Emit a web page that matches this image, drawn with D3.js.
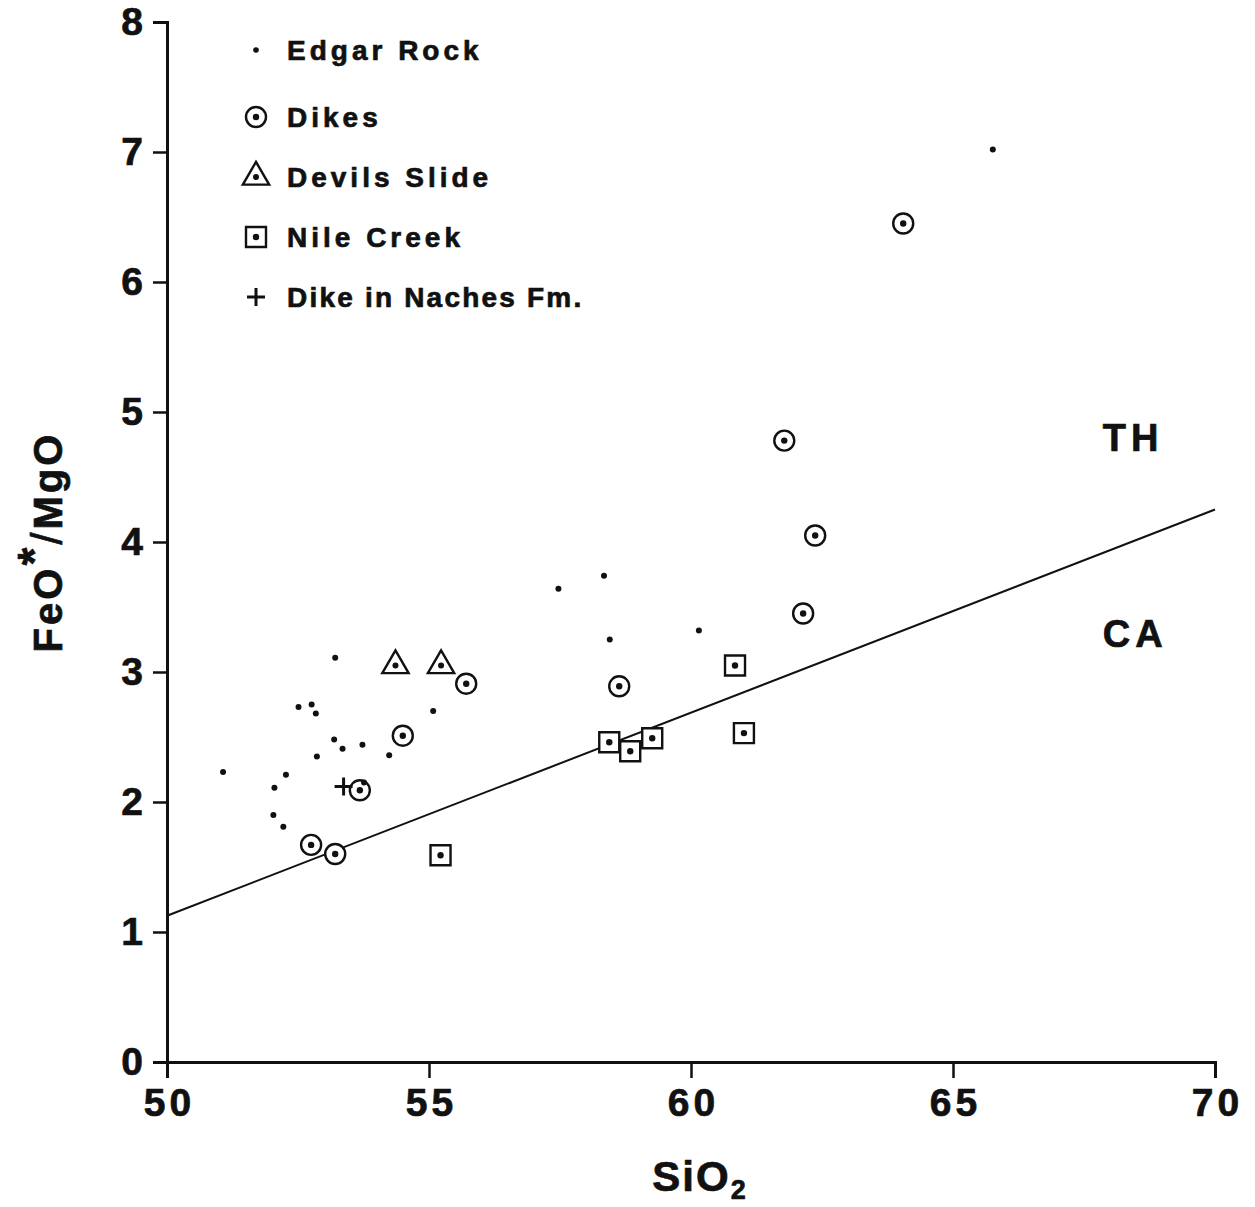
<!DOCTYPE html>
<html>
<head>
<meta charset="utf-8">
<script src="https://cdn.jsdelivr.net/npm/d3@7"></script>
<style>
  body { margin: 0; background: #fff; }
  text { font-family: "Liberation Sans", Arial, sans-serif; font-weight: bold; fill: #111; stroke: #111; stroke-width: 0.7px; }
</style>
</head>
<body>
<div id="chart"></div>
<script>
// data: [SiO2, FeO*/MgO]
var edgarRock = [
  [53.21, 3.11], [52.51, 2.73], [52.76, 2.75], [52.84, 2.68], [55.08, 2.70],
  [53.19, 2.48], [53.35, 2.41], [53.73, 2.44], [52.86, 2.35], [54.24, 2.36],
  [51.07, 2.23], [52.27, 2.21], [52.05, 2.11], [52.03, 1.90], [52.22, 1.81],
  [53.76, 2.15], [57.47, 3.64], [58.34, 3.74], [58.45, 3.25], [60.15, 3.32],
  [65.76, 7.02]
];
var dikes = [
  [55.71, 2.91], [54.50, 2.51], [53.68, 2.09], [52.75, 1.67], [53.21, 1.60],
  [58.63, 2.89], [64.05, 6.45], [61.78, 4.78], [62.37, 4.05], [62.14, 3.45]
];
var devilsSlide = [[54.36, 3.05], [55.23, 3.05]];
var nileCreek = [
  [55.22, 1.59], [58.44, 2.46], [58.84, 2.39], [59.26, 2.49], [60.84, 3.05], [61.01, 2.53]
];
var nachesDike = [[53.37, 2.12]];

// Miyashiro TH / CA boundary
var divideLine = [[50, 1.125], [70, 4.25]];

var xTicks = [50, 55, 60, 65, 70];
var yTicks = [0, 1, 2, 3, 4, 5, 6, 7, 8];
var legendLabels = ["Edgar Rock", "Dikes", "Devils Slide", "Nile Creek", "Dike in Naches Fm."];

var margin = {top: 22, right: 40, bottom: 145, left: 167};
var width = 1255 - margin.left - margin.right,
    height = 1207 - margin.top - margin.bottom;
var plotW = 1048;

var svg = d3.select("#chart").append("svg")
    .attr("width", 1255)
    .attr("height", 1207);

var g = svg.append("g")
    .attr("transform", "translate(" + margin.left + "," + margin.top + ")");

var x = d3.scaleLinear().domain([50, 70]).range([0, plotW]);
var y = d3.scaleLinear().domain([0, 8]).range([height, 0]);

// axes
var xAxis = g.append("g")
    .attr("transform", "translate(0," + height + ")")
    .call(d3.axisBottom(x).tickValues(xTicks).tickSize(16).tickPadding(10));
var yAxis = g.append("g")
    .call(d3.axisLeft(y).tickValues(yTicks).tickSize(14).tickPadding(6));

[xAxis, yAxis].forEach(function (a) {
    a.select(".domain").attr("stroke", "#111").attr("stroke-width", 3);
    a.selectAll(".tick line").attr("stroke", "#111").attr("stroke-width", 2.5);
    a.selectAll(".tick text")
        .style("font-family", "'Liberation Sans', Arial, sans-serif")
        .style("font-weight", "bold")
        .style("font-size", "39px")
        .style("letter-spacing", "4px")
        .attr("fill", "#111");
});
xAxis.selectAll(".tick text").attr("dx", "2px");

// boundary line
var line = d3.line()
    .x(function (d) { return x(d[0]); })
    .y(function (d) { return y(d[1]); });
g.append("path")
    .datum(divideLine)
    .attr("d", line)
    .attr("fill", "none")
    .attr("stroke", "#111")
    .attr("stroke-width", 2);

// symbol helpers
function drawDot(sel, r) {
    sel.append("circle").attr("r", r).attr("fill", "#111");
}
function drawRing(sel) {
    sel.append("circle").attr("r", 10).attr("fill", "#fff").attr("stroke", "#111").attr("stroke-width", 2.4);
    drawDot(sel, 3.2);
}
function drawTriangle(sel) {
    sel.append("path")
        .attr("d", d3.symbol().type(d3.symbolTriangle).size(300)())
        .attr("fill", "#fff").attr("stroke", "#111").attr("stroke-width", 2.4);
    drawDot(sel, 3);
}
function drawSquare(sel) {
    sel.append("path")
        .attr("d", d3.symbol().type(d3.symbolSquare).size(400)())
        .attr("fill", "#fff").attr("stroke", "#111").attr("stroke-width", 2.4);
    drawDot(sel, 3.2);
}
function drawPlus(sel) {
    sel.append("path")
        .attr("d", "M-9,0H9M0,-9V9")
        .attr("stroke", "#111").attr("stroke-width", 3);
}

var series = [
    {data: edgarRock, draw: function (s) { drawDot(s, 3); }},
    {data: dikes, draw: drawRing},
    {data: devilsSlide, draw: drawTriangle},
    {data: nileCreek, draw: drawSquare},
    {data: nachesDike, draw: drawPlus}
];

// draw open symbols first, small dots on top
[1, 2, 3, 4, 0].forEach(function (i) {
    var s = series[i];
    g.selectAll(".pt" + i)
        .data(s.data)
        .enter().append("g")
        .attr("class", "pt" + i)
        .attr("transform", function (d) { return "translate(" + x(d[0]) + "," + y(d[1]) + ")"; })
        .each(function () { s.draw(d3.select(this)); });
});

// legend
var legend = svg.append("g").attr("transform", "translate(256,0)");
legendLabels.forEach(function (lab, i) {
    var row = legend.append("g").attr("transform", "translate(0," + (50 + i * 60 + (i > 0 ? 7 : 0)) + ")");
    var sym = row.append("g");
    if (i === 0) drawDot(sym, 2.8); else series[i].draw(sym);
    row.append("text")
        .attr("x", 31)
        .attr("y", 10)
        .style("font-size", "28px")
        .style("letter-spacing", i === 4 ? "2.2px" : "4px")
        .text(lab);
});

// region labels
g.append("text")
    .attr("x", x(67.86)).attr("y", y(4.70))
    .style("font-size", "38px").style("letter-spacing", "5px")
    .text("TH");
g.append("text")
    .attr("x", x(67.86)).attr("y", y(3.19))
    .style("font-size", "38px").style("letter-spacing", "5px")
    .text("CA");

// axis titles
var xt = svg.append("text")
    .attr("x", 700).attr("y", 1191)
    .attr("text-anchor", "middle")
    .style("font-size", "42px")
    .style("letter-spacing", "2px");
xt.append("tspan").text("SiO");
xt.append("tspan").attr("dy", 8).style("font-size", "27px").text("2");

var yt = svg.append("text")
    .attr("transform", "translate(62,542) rotate(-90)")
    .attr("text-anchor", "middle")
    .style("font-size", "40px")
    .style("letter-spacing", "3px");
yt.append("tspan").text("FeO");
yt.append("tspan").attr("dy", -12).style("font-size", "46px").text("*");
yt.append("tspan").attr("dy", 12).style("font-size", "44px").style("font-weight", "normal").text("/");
yt.append("tspan").text("MgO");
</script>
</body>
</html>
